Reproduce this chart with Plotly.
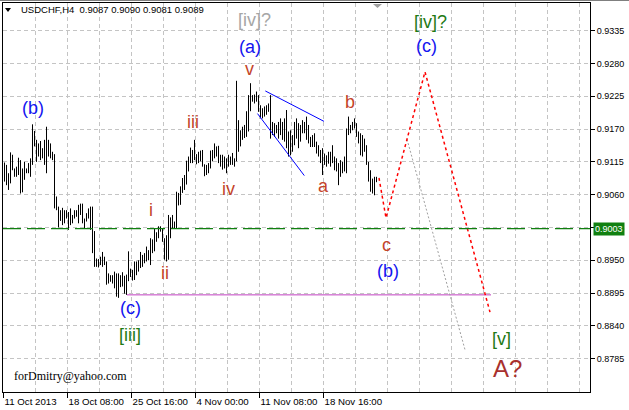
import plotly.graph_objects as go

# ---------------- data ----------------
symbol_header = "USDCHF,H4&nbsp; 0.9087 0.9090 0.9081 0.9089"

highs = [
    0.9114, 0.9110, 0.9096, 0.9131, 0.9127, 0.9104, 0.9107, 0.9122, 0.9118, 0.9104,
    0.9115, 0.9104, 0.9113, 0.9121, 0.9178, 0.9167, 0.9152, 0.9146, 0.9150, 0.9138,
    0.9152, 0.9174, 0.9152, 0.9146, 0.9132, 0.9128, 0.9057, 0.9040, 0.9034, 0.9038,
    0.9034, 0.9034, 0.9031, 0.9037, 0.9026, 0.9034, 0.9034, 0.9043, 0.9045, 0.9045,
    0.9020, 0.9029, 0.9037, 0.9040, 0.9040, 0.8999, 0.8953, 0.8952, 0.8956, 0.8964,
    0.8956, 0.8948, 0.8928, 0.8925, 0.8925, 0.8931, 0.8928, 0.8928, 0.8925, 0.8930,
    0.8924, 0.8926, 0.8965, 0.8936, 0.8934, 0.8948, 0.8948, 0.8950, 0.8964, 0.8959,
    0.8962, 0.8973, 0.8967, 0.8987, 0.8985, 0.9003, 0.8997, 0.9007, 0.9007, 0.9004,
    0.8987, 0.8992, 0.9026, 0.9022, 0.9026, 0.9015, 0.9065, 0.9063, 0.9074, 0.9088,
    0.9093, 0.9117, 0.9124, 0.9139, 0.9135, 0.9152, 0.9128, 0.9132, 0.9134, 0.9135,
    0.9111, 0.9110, 0.9113, 0.9134, 0.9135, 0.9146, 0.9141, 0.9142, 0.9127, 0.9127,
    0.9124, 0.9121, 0.9127, 0.9124, 0.9130, 0.9121, 0.9251, 0.9185, 0.9168, 0.9174,
    0.9177, 0.9200, 0.9227, 0.9247, 0.9227, 0.9228, 0.9233, 0.9227, 0.9210, 0.9205,
    0.9208, 0.9210, 0.9213, 0.9227, 0.9182, 0.9180, 0.9177, 0.9182, 0.9188, 0.9182,
    0.9188, 0.9202, 0.9166, 0.9168, 0.9160, 0.9182, 0.9188, 0.9180, 0.9177, 0.9185,
    0.9182, 0.9191, 0.9177, 0.9157, 0.9160, 0.9163, 0.9149, 0.9143, 0.9135, 0.9138,
    0.9129, 0.9126, 0.9132, 0.9132, 0.9143, 0.9124, 0.9121, 0.9113, 0.9118, 0.9115,
    0.9124, 0.9171, 0.9191, 0.9177, 0.9182, 0.9188, 0.9180, 0.9166, 0.9163, 0.9160,
    0.9154, 0.9143, 0.9115, 0.9101, 0.9087, 0.9090, 0.9090,
]
lows = [
    0.9082, 0.9076, 0.9068, 0.9079, 0.9101, 0.9090, 0.9090, 0.9093, 0.9062, 0.9064,
    0.9085, 0.9096, 0.9096, 0.9090, 0.9110, 0.9141, 0.9115, 0.9124, 0.9118, 0.9121,
    0.9110, 0.9096, 0.9124, 0.9121, 0.9118, 0.9037, 0.9034, 0.9005, 0.9016, 0.9009,
    0.9012, 0.9020, 0.9001, 0.9009, 0.9012, 0.9020, 0.9023, 0.9012, 0.9026, 0.9012,
    0.9003, 0.9015, 0.9020, 0.9001, 0.8962, 0.8939, 0.8939, 0.8938, 0.8942, 0.8939,
    0.8942, 0.8909, 0.8911, 0.8914, 0.8911, 0.8903, 0.8889, 0.8887, 0.8905, 0.8906,
    0.8894, 0.8892, 0.8915, 0.8922, 0.8916, 0.8917, 0.8925, 0.8931, 0.8937, 0.8939,
    0.8945, 0.8948, 0.8950, 0.8942, 0.8962, 0.8965, 0.8981, 0.8987, 0.8998, 0.8981,
    0.8951, 0.8948, 0.8951, 0.8987, 0.9004, 0.9003, 0.9004, 0.9042, 0.9043, 0.9063,
    0.9068, 0.9077, 0.9099, 0.9113, 0.9113, 0.9118, 0.9111, 0.9113, 0.9116, 0.9107,
    0.9091, 0.9093, 0.9096, 0.9104, 0.9116, 0.9121, 0.9124, 0.9113, 0.9107, 0.9102,
    0.9104, 0.9096, 0.9107, 0.9110, 0.9110, 0.9107, 0.9116, 0.9132, 0.9141, 0.9152,
    0.9155, 0.9157, 0.9166, 0.9200, 0.9216, 0.9213, 0.9216, 0.9199, 0.9188, 0.9188,
    0.9191, 0.9194, 0.9199, 0.9154, 0.9160, 0.9157, 0.9163, 0.9154, 0.9160, 0.9152,
    0.9149, 0.9138, 0.9124, 0.9126, 0.9132, 0.9143, 0.9154, 0.9138, 0.9149, 0.9163,
    0.9163, 0.9152, 0.9146, 0.9140, 0.9140, 0.9140, 0.9129, 0.9124, 0.9113, 0.9093,
    0.9110, 0.9107, 0.9112, 0.9107, 0.9113, 0.9101, 0.9099, 0.9076, 0.9090, 0.9096,
    0.9099, 0.9096, 0.9160, 0.9163, 0.9168, 0.9171, 0.9157, 0.9146, 0.9126, 0.9124,
    0.9132, 0.9110, 0.9082, 0.9065, 0.9062, 0.9059, 0.9081,
]

# time axis: H4 bar index, labels every 32 bars
time_tick_index = [-0.5, 31.5, 63.5, 95.5, 127.5, 159.5]
time_tick_labels = ["11 Oct 2013", "18 Oct 08:00", "25 Oct 16:00",
                    "4 Nov 00:00", "11 Nov 08:00", "18 Nov 16:00"]
price_ticks = [0.8785, 0.8840, 0.8895, 0.8950, 0.9005, 0.9060,
               0.9115, 0.9170, 0.9225, 0.9280, 0.9335]

# drawn objects (bar index, price)
level_price = 0.9003
level_label = "0.9003"
support_x = [61.25, 243.25]
support_y = [0.8892, 0.8892]
wedge_upper_x = [130.4, 159.75]
wedge_upper_y = [0.9234, 0.9183]
wedge_lower_x = [126.5, 149.9]
wedge_lower_y = [0.9196, 0.9092]
forecast_x = [187.25, 190.75, 210.25, 242.75]
forecast_y = [0.9088, 0.9021, 0.9266, 0.8863]
alt_x = [201.25, 230.25]
alt_y = [0.9153, 0.8800]

# wave labels
wave_text = ["(b)", "i", "ii", "iii", "iv", "v", "a", "b", "c", "(b)",
             "(c)", "[iii]", "(a)", "[iv]?", "[iv]?", "(c)", "[v]", "A?"]
wave_x = [14, 73.25, 80.25, 94.25, 111.75, 122.25, 159.25, 172.75, 190.75, 191.75,
          62.75, 62.75, 122.75, 124.75, 212.75, 210.75, 248.25, 251.25]
wave_y = [0.9206, 0.9034, 0.8929, 0.9182, 0.9070, 0.9271, 0.9075, 0.9215, 0.8976, 0.8932,
          0.8870, 0.8825, 0.9308, 0.9353, 0.9350, 0.9309, 0.8818, 0.8769]
wave_kind = ["blue", "red", "red", "red", "red", "red", "red", "red", "red", "blue",
             "blue", "green", "blue", "gray", "green", "blue", "green", "big"]

# ---------------- styling ----------------
FONT = "Liberation Sans, Arial, sans-serif"
kind_color = {"blue": "#1414f0", "red": "#c4442a", "green": "#1f7a14",
              "gray": "#a6a6a6", "big": "#a8302e"}
kind_size = {"blue": 18, "red": 18, "green": 18, "gray": 18, "big": 24}
GRID = "#c4c4c4"

fig = go.Figure()

# price bars (high-low lines)
bx, by = [], []
for k, (h, l) in enumerate(zip(highs, lows)):
    bx += [k, k, None]
    by += [l, h, None]
fig.add_trace(go.Scatter(x=bx, y=by, mode="lines", line=dict(color="black", width=1),
                         hoverinfo="skip", showlegend=False))

# drawn objects
fig.add_trace(go.Scatter(x=support_x, y=support_y, mode="lines",
                         line=dict(color="#c040c0", width=1), hoverinfo="skip"))
fig.add_trace(go.Scatter(x=wedge_upper_x, y=wedge_upper_y, mode="lines",
                         line=dict(color="#0000ff", width=1), hoverinfo="skip"))
fig.add_trace(go.Scatter(x=wedge_lower_x, y=wedge_lower_y, mode="lines",
                         line=dict(color="#0000ff", width=1), hoverinfo="skip"))
fig.add_trace(go.Scatter(x=alt_x, y=alt_y, mode="lines",
                         line=dict(color="#a0a0a0", width=1, dash="2px,2px"), hoverinfo="skip"))
fig.add_trace(go.Scatter(x=forecast_x, y=forecast_y, mode="lines",
                         line=dict(color="#ff0000", width=1.5, dash="3px,3px"), hoverinfo="skip"))

fig.add_shape(type="line", xref="paper", x0=0, x1=1, yref="y", y0=level_price, y1=level_price,
              line=dict(color="#108010", width=1.2, dash="18px,6px"), layer="above")

# markers at the top (header triangle and chart shift marker)
fig.add_shape(type="path", xref="x", yref="y",
              path="M 0.25,0.93731 L 3.25,0.93731 L 1.75,0.93664 Z",
              fillcolor="black", line=dict(width=0))
fig.add_shape(type="path", xref="x", yref="y",
              path="M 184.25,0.93798 L 188.75,0.93798 L 186.5,0.93731 Z",
              fillcolor="#a0a0a0", line=dict(width=0))
# window frame line above chart
fig.add_shape(type="line", xref="paper", yref="paper", x0=-0.01, x1=1.07,
              y0=1 + 2.6 / 389, y1=1 + 2.6 / 389, line=dict(color="#707070", width=1))

for t, x, y, kd in zip(wave_text, wave_x, wave_y, wave_kind):
    fig.add_annotation(x=x, y=y, xref="x", yref="y", text=t, showarrow=False,
                       font=dict(family=FONT, size=kind_size[kd], color=kind_color[kd]),
                       xanchor="center", yanchor="middle")

fig.add_annotation(xref="paper", yref="paper", x=16 / 587, y=(392 - 10) / 389,
                   text=symbol_header, showarrow=False, xanchor="left", yanchor="middle",
                   font=dict(family=FONT, size=9.5, color="black"))
fig.add_annotation(xref="paper", yref="paper", x=9 / 587, y=16 / 389,
                   text="forDmitry@yahoo.com", showarrow=False, xanchor="left", yanchor="middle",
                   font=dict(family="Liberation Serif, Times New Roman, serif", size=12, color="black"))
fig.add_annotation(xref="paper", yref="y", x=1 + 3 / 587, y=level_price,
                   text=level_label, showarrow=False, xanchor="left", yanchor="middle",
                   bgcolor="#108010", borderpad=1,
                   font=dict(family=FONT, size=9, color="white"))

fig.update_layout(
    width=629, height=410,
    margin=dict(l=3, r=39, t=3, b=18, autoexpand=False),
    paper_bgcolor="white", plot_bgcolor="white",
    showlegend=False,
    xaxis=dict(range=[-0.75, 292.75], tickmode="array", tickvals=time_tick_index,
               ticktext=time_tick_labels, ticks="outside", ticklen=5, tickcolor="black",
               ticklabelposition="outside right", tickangle=0,
               tickfont=dict(family=FONT, size=9.7, color="black"),
               showgrid=True, gridcolor=GRID, griddash="4px,3px", gridwidth=1,
               minor=dict(tick0=-0.5, dtick=16, showgrid=True, gridcolor=GRID,
                          griddash="4px,3px", gridwidth=1, ticks=""),
               showline=True, linecolor="black", linewidth=1, mirror=True,
               zeroline=False, fixedrange=True),
    yaxis=dict(side="right", range=[0.87291, 0.93815], tickmode="array",
               tickvals=price_ticks, ticktext=[f"{v:.4f}" for v in price_ticks],
               ticks="outside", ticklen=4, tickcolor="black",
               tickfont=dict(family=FONT, size=9, color="black"),
               showgrid=True, gridcolor=GRID, griddash="4px,3px", gridwidth=1,
               showline=True, linecolor="black", linewidth=1, mirror=True,
               zeroline=False, fixedrange=True),
)

fig.write_html("out.html", config={"displayModeBar": False},
               post_script="document.body.style.margin='0px';document.body.style.overflow='hidden';")
